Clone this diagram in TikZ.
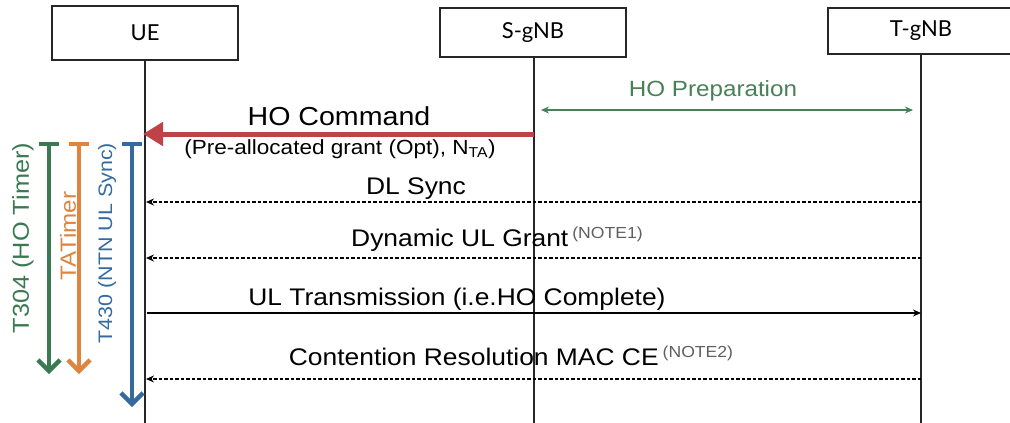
\documentclass[tikz,border=0pt]{standalone}
\usepackage{fontspec}
\setmainfont{Liberation Sans}
\newfontfamily\msgfont[FakeStretch=1.1]{Liberation Sans}
\newfontfamily\boxfont{Lato}
\usetikzlibrary{arrows.meta}

\definecolor{timergreen}{RGB}{58,122,82}
\definecolor{prepgreen}{RGB}{72,128,88}
\definecolor{taorange}{RGB}{222,132,62}
\definecolor{syncblue}{RGB}{52,106,160}
\definecolor{cmdred}{RGB}{190,66,70}
\definecolor{notegray}{RGB}{95,95,95}

\newcommand{\notemark}[1]{\raisebox{8pt}{\fontsize{16}{16}\selectfont\color{notegray}(#1)}}

\tikzset{
  entity/.style={draw=black!85, line width=1.4pt, fill=white, minimum width=186pt,
    inner sep=0pt, font=\boxfont\fontsize{22}{24}\selectfont},
  lifeline/.style={draw=black!85, line width=1.5pt},
  msgtext/.style={anchor=base, inner sep=0pt, font=\msgfont\fontsize{24}{26}\selectfont},
  dlmsg/.style={line width=1.6pt, dash pattern=on 3.2pt off 2.3pt, -{Stealth[length=8pt,width=7pt]}},
  ulmsg/.style={line width=1.3pt, -{Stealth[length=8pt,width=7pt]}},
  cmdmsg/.style={draw=cmdred, line width=5pt, -{Triangle[length=20pt,width=23pt]}},
  prepmsg/.style={draw=prepgreen, line width=1.5pt, {Stealth[length=8pt,width=7pt]}-{Stealth[length=8pt,width=7pt]}},
  timer/.style={line width=4.3pt, {Bar[width=20pt]}-{Straight Barb[length=11pt,width=22pt]}},
  timerlabel/.style={rotate=90, inner sep=0pt}
}

\begin{document}
\begin{tikzpicture}[x=1pt,y=-1pt]
\useasboundingbox (0,0) rectangle (1010,423);

% entities
\node[entity, minimum height=54pt] (ue) at (145,33) {UE};
\node[entity, minimum height=49pt] (sg) at (533,32.5) {S-gNB};
\node[entity, minimum height=46pt] (tg) at (921,31) {T-gNB};

% lifeline ends
\coordinate (ueEnd) at (145,423);
\coordinate (sgEnd) at (534,423);
\coordinate (tgEnd) at (921,423);
\draw[lifeline] (ue.south) -- (ueEnd);
\draw[lifeline] (sg.south -| sgEnd) -- (sgEnd);
\draw[lifeline] (tg.south) -- (tgEnd);

% message anchor points on the lifelines
\coordinate (sgPrep) at (541,110);
\coordinate (tgPrep) at (913,110);
\coordinate (sgCmd) at (534,134);
\coordinate (ueCmd) at (143,134);
\coordinate (tgDl) at (921,202);
\coordinate (ueDl) at (146,202);
\coordinate (tgGr) at (921,258);
\coordinate (ueGr) at (146,258);
\coordinate (ueUl) at (147,313);
\coordinate (tgUl) at (921,313);
\coordinate (tgCr) at (921,379);
\coordinate (ueCr) at (146,379);

% messages
\draw[prepmsg] (sgPrep) -- (tgPrep);
\node[msgtext, text=prepgreen, font=\msgfont\fontsize{22}{24}\selectfont] (tPrep) at (713,96) {HO Preparation};

\draw[cmdmsg] (sgCmd) -- (ueCmd);
\node[msgtext, font=\msgfont\fontsize{26}{28}\selectfont] (tCmd) at (339,125) {HO Command};
\node[msgtext, font=\msgfont\fontsize{20.5}{22}\selectfont] (tCmdSub) at (340,154)
  {(Pre-allocated grant (Opt), N\textsubscript{TA})};

\draw[dlmsg] (tgDl) -- (ueDl);
\node[msgtext] (tDl) at (416,194.5) {DL Sync};

\draw[dlmsg] (tgGr) -- (ueGr);
\node[msgtext] (tGr) at (497,246.5) {Dynamic UL Grant\,\notemark{NOTE1}};

\draw[ulmsg] (ueUl) -- (tgUl);
\node[msgtext] (tUl) at (457,305) {UL Transmission (i.e.HO Complete)};

\draw[dlmsg] (tgCr) -- (ueCr);
\node[msgtext] (tCr) at (511,365.5) {Contention Resolution MAC CE\,\notemark{NOTE2}};

% timers running at the UE
\coordinate (t304Top) at (49,142);
\coordinate (t304Bot) at (49,374);
\coordinate (taTop) at (79,142);
\coordinate (taBot) at (79,374);
\coordinate (t430Top) at (132,142);
\coordinate (t430Bot) at (132,407);
\draw[timer, draw=timergreen] (t304Top) -- (t304Bot);
\draw[timer, draw=taorange] (taTop) -- (taBot);
\draw[timer, draw=syncblue] (t430Top) -- (t430Bot);

\node[timerlabel, text=timergreen, font=\msgfont\fontsize{23}{24}\selectfont] (l304) at (23,238) {T304 (HO Timer)};
\node[timerlabel, text=taorange, font=\msgfont\fontsize{22}{24}\selectfont] (lta) at (68,236) {TATimer};
\node[timerlabel, text=syncblue, font=\msgfont\fontsize{19.5}{22}\selectfont] (l430) at (107,243) {T430 (NTN UL Sync)};
\end{tikzpicture}
\end{document}
